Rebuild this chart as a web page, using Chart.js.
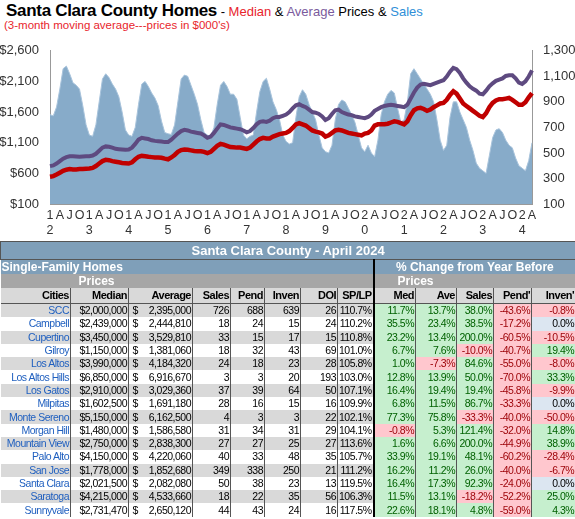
<!DOCTYPE html>
<html><head><meta charset="utf-8">
<script src="https://cdn.jsdelivr.net/npm/chart.js@4"></script>
<style>
body{margin:0;width:575px;height:519px;position:relative;background:#fff;font-family:"Liberation Sans",Arial,sans-serif;overflow:hidden}
#title{position:absolute;left:6px;top:1px;white-space:nowrap}
#title .big{font-size:17px;font-weight:bold;letter-spacing:-0.3px}
#title .sm{font-size:13px}
#sub{position:absolute;left:4px;top:19px;font-size:11.5px;color:#e8252c}
#cw{position:absolute;left:0;top:40px;width:575px;height:202px}
table{position:absolute;left:0;top:241px;width:575px;border-collapse:collapse;table-layout:fixed;font-family:"Liberation Sans",Arial,sans-serif;font-size:10.5px;letter-spacing:-0.5px}
td{padding:0 1px;height:13.3px;line-height:13px;text-align:right;white-space:nowrap;overflow:hidden;border-right:1px solid #555}
.h1 td{background:#7f9fb9;color:#fff;font-weight:bold;font-size:13px;letter-spacing:0;text-align:center;height:17px;border:1px solid #555}
.h2 td{background:#7f9fb9;color:#fff;font-weight:bold;font-size:12px;letter-spacing:0;height:14px}
.h3 td{background:#a6a6a6;color:#fff;font-weight:bold;font-size:12px;letter-spacing:0;height:14px}
.h4 td{background:#d9d9d9;color:#000;font-weight:bold;font-size:11px;height:15px;border-bottom:1px solid #555}
td.city{color:#1f5fbf}
.g td.l{background:#d9d9d9}
td.pos{background:#c6efce;color:#006100}
td.neg{background:#ffc7ce;color:#9c0006}
td.zero{background:#dce6f1;color:#000}
td.sep{border-right:2px solid #000}
</style></head><body>
<div id="title"><span class="big">Santa Clara County Homes</span><span class="sm"> - <span style="color:#e8252c">Median</span> &amp; <span style="color:#7a5a9c">Average</span> Prices &amp; <span style="color:#2f8fd8">Sales</span></span></div>
<div id="sub">(3-month moving average---prices in $000's)</div>
<div id="cw"><canvas id="c"></canvas></div>
<table id="t"></table>
<script>
const startYear = 2012;
const averagePrice = [
718,730,760,800,840,865,880,880,875,870,875,880,
880,890,920,970,1020,1040,1035,1020,1000,995,990,985,
990,1020,1080,1150,1180,1170,1160,1140,1130,1125,1120,1110,
1110,1150,1200,1250,1290,1310,1300,1280,1270,1260,1250,1220,
1180,1200,1260,1330,1400,1390,1370,1350,1340,1330,1320,1300,
1270,1290,1340,1400,1440,1450,1440,1460,1500,1520,1520,1540,
1560,1600,1660,1710,1730,1700,1680,1640,1600,1590,1570,1530,
1470,1500,1570,1630,1640,1600,1580,1560,1550,1530,1520,1510,
1500,1520,1560,1620,1650,1680,1700,1710,1720,1710,1700,1690,
1680,1720,1820,1920,2000,2050,2060,2050,2040,2060,2080,2100,
2120,2180,2260,2320,2300,2240,2150,2080,2020,1980,1950,1900,
1890,1950,2020,2070,2110,2130,2150,2190,2200,2200,2150,2080,
2060,2100,2180,2280];
const medianPrice = [
545,555,580,610,640,660,670,665,665,670,670,675,
680,690,720,760,800,820,815,800,790,780,770,765,
760,780,830,870,885,880,870,865,860,860,855,840,
830,860,900,950,980,990,985,975,965,960,960,950,
930,950,1000,1050,1080,1070,1050,1030,1025,1020,1020,1010,
1000,1020,1070,1120,1160,1180,1170,1170,1200,1220,1240,1250,
1260,1290,1340,1400,1420,1400,1380,1340,1300,1280,1270,1250,
1200,1220,1260,1300,1310,1300,1280,1260,1250,1240,1230,1220,
1250,1260,1300,1380,1400,1400,1400,1410,1430,1450,1440,1420,
1400,1450,1550,1630,1660,1670,1650,1620,1640,1680,1710,1740,
1750,1800,1880,1940,1900,1820,1740,1700,1660,1620,1580,1540,
1520,1580,1680,1750,1790,1810,1810,1820,1830,1800,1760,1720,
1720,1760,1840,1910];
const sales = [
800,790,860,1000,1160,1180,1120,1050,1030,1000,870,720,
640,630,720,900,1080,1120,1090,1040,1000,940,820,680,
640,630,700,880,1040,1060,1020,970,930,870,750,660,
650,645,720,900,1080,1110,1100,1030,960,880,760,660,
640,630,700,880,1030,1060,1020,960,960,920,780,640,
610,630,640,820,980,1060,1085,1000,900,840,760,640,
590,570,580,780,940,995,960,880,820,760,640,540,
510,500,560,760,880,915,900,850,800,740,640,540,
510,560,500,470,600,800,900,960,990,970,850,740,
760,900,1120,1160,1120,1080,1040,1000,960,900,760,600,
520,560,780,900,900,820,760,700,600,520,420,380,
360,340,480,620,680,690,660,600,560,540,460,400,
380,360,440,580];
const monthLetters = ['','','','A','','','J','','','O','',''];
const labels = sales.map((_, i) => {
  const y = String(startYear + Math.floor(i/12)).slice(2);
  return i % 12 === 0 ? [y[0], y[1]] : monthLetters[i % 12];
});

new Chart(document.getElementById('c'), {
  data: {
    labels,
    datasets: [
      {type:'line', data: medianPrice, borderColor:'#c00000', borderWidth:4.5, pointRadius:0, yAxisID:'y', order:1},
      {type:'line', data: averagePrice, borderColor:'#5e4a80', borderWidth:4, pointRadius:0, yAxisID:'y', order:2},
      {type:'line', data: sales, borderColor:'#a9c4dc', borderWidth:1, backgroundColor:'#87abc9', fill:'origin', pointRadius:0, yAxisID:'y1', order:3}
    ]
  },
  options: {
    responsive:true, maintainAspectRatio:false, animation:false,
    layout:{padding:{top:8,right:0,left:0,bottom:0}},
    plugins:{legend:{display:false}, tooltip:{enabled:false}},
    scales:{
      x:{offset:false, grid:{display:false, drawTicks:false}, border:{color:'#999'},
         ticks:{autoSkip:false, maxRotation:0, padding:4, font:{size:12.5,family:'Liberation Sans'}, color:'#333'}},
      y:{position:'left', min:100, max:2600, grid:{display:false}, border:{color:'#999'},
         afterFit:a=>{a.width=50},
         ticks:{stepSize:500, font:{size:13,family:'Liberation Sans'}, color:'#333',
           callback:v=>'$'+v.toLocaleString('en-US')}},
      y1:{position:'right', min:100, max:1300, grid:{display:false}, border:{color:'#999'},
         afterFit:a=>{a.width=43},
         ticks:{stepSize:200, font:{size:13,family:'Liberation Sans'}, color:'#333',
           callback:v=>v.toLocaleString('en-US')}}
    }
  }
});

const cities = ['SCC','Campbell','Cupertino','Gilroy','Los Altos','Los Altos Hills','Los Gatos','Milpitas','Monte Sereno','Morgan Hill','Mountain View','Palo Alto','San Jose','Santa Clara','Saratoga','Sunnyvale'];
const median = ['2,000,000','2,439,000','3,450,000','1,150,000','3,990,000','6,850,000','2,910,000','1,602,500','5,150,000','1,480,000','2,750,000','4,150,000','1,778,000','2,021,500','4,215,000','2,731,470'];
const average = ['2,395,000','2,444,810','3,529,810','1,381,060','4,184,320','6,916,670','3,029,360','1,691,180','6,162,500','1,586,580','2,838,300','4,220,060','1,852,680','2,082,080','4,533,660','2,650,120'];
const salesCount = [726,18,33,18,24,3,37,28,4,31,27,40,349,50,18,44];
const pend = [688,24,15,32,18,3,39,16,3,34,27,33,338,38,22,43];
const inven = [639,15,17,43,23,20,64,15,3,31,25,48,250,23,35,24];
const doi = [26,24,15,69,28,193,50,16,22,29,27,35,21,13,56,16];
const splp = ['110.7%','110.2%','110.8%','101.0%','105.8%','103.0%','107.1%','109.9%','102.1%','104.1%','113.6%','105.7%','111.2%','119.5%','106.3%','117.5%'];
const chMed = [11.7,35.5,23.2,6.7,1.0,12.8,16.4,6.8,77.3,-0.8,1.6,33.9,16.2,16.4,11.5,22.6];
const chAve = [13.7,23.4,13.4,7.6,-7.3,13.9,19.4,11.5,75.8,5.3,6.6,19.1,11.2,17.3,13.1,18.1];
const chSales = [38.0,38.5,200.0,-10.0,84.6,50.0,19.4,86.7,-33.3,121.4,200.0,48.1,26.0,92.3,-18.2,4.8];
const chPend = [-43.6,-17.2,-60.5,-40.7,-55.0,-70.0,-45.8,-33.3,-40.0,-32.0,-44.9,-60.2,-40.0,-24.0,-52.2,-59.0];
const chInven = [-0.8,0.0,-10.5,19.4,-8.0,33.3,-9.9,0.0,-50.0,14.8,38.9,-28.4,-6.7,0.0,25.0,4.3];

const widths=[70,58,64,38,34,36,37,36,42,41,37,38,44];
let h='<colgroup>'+widths.map(w=>`<col style="width:${w}px">`).join('')+'</colgroup>';
h+='<tr class="h1"><td colspan="13">Santa Clara County - April 2024</td></tr>';
h+='<tr class="h2"><td colspan="8" class="sep" style="text-align:left">Single-Family Homes</td><td colspan="5" style="text-align:center">% Change from Year Before</td></tr>';
h+='<tr class="h3"><td colspan="3" style="text-align:center;border-right:none">Prices</td><td colspan="5" class="sep"></td><td colspan="2" style="text-align:center;border-right:none">Prices</td><td colspan="3"></td></tr>';
const hd=['Cities','Median','Average','Sales','Pend','Inven','DOI','SP/LP','Med','Ave','Sales',"Pend'","Inven'"];
h+='<tr class="h4">'+hd.map((x,i)=>`<td${i==7?' class="sep"':''}>${x}</td>`).join('')+'</tr>';
const pc=v=>{const c=v>0?'pos':v<0?'neg':'zero';return `<td class="${c}">${v.toFixed(1)}%</td>`;};
cities.forEach((c,i)=>{
  h+=`<tr class="${i%2==0?'g':''}"><td class="l city">${c}</td><td class="l">$${median[i]}</td><td class="l"><span style="float:left">&nbsp;$</span>${average[i]}</td><td class="l">${salesCount[i]}</td><td class="l">${pend[i]}</td><td class="l">${inven[i]}</td><td class="l">${doi[i]}</td><td class="l sep">${splp[i]}</td>${pc(chMed[i])}${pc(chAve[i])}${pc(chSales[i])}${pc(chPend[i])}${pc(chInven[i])}</tr>`;
});
document.getElementById('t').innerHTML=h;
</script>
</body></html>
